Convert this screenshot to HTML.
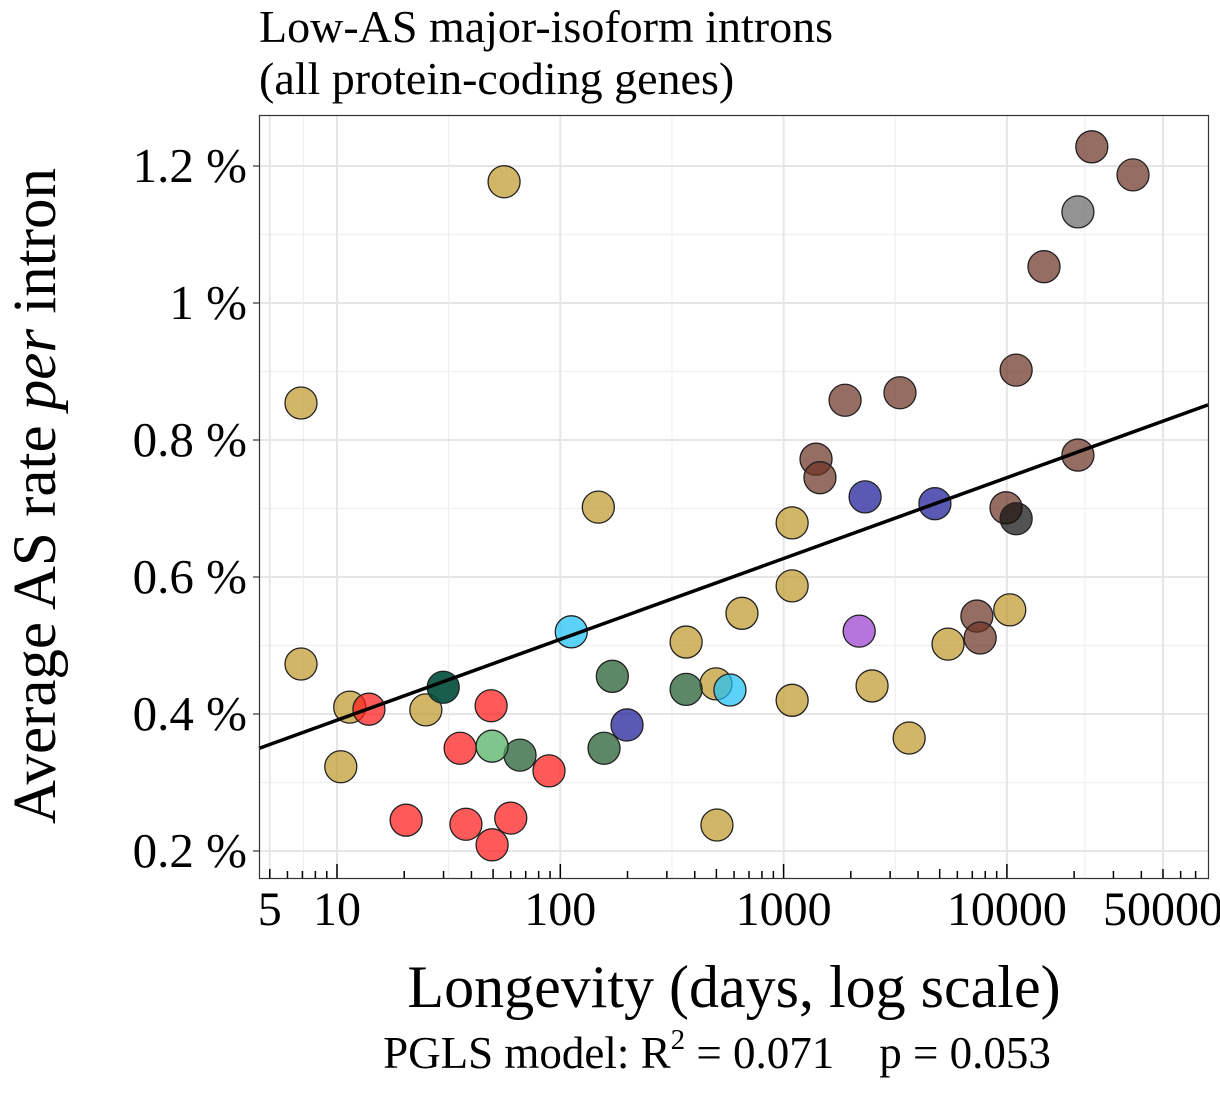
<!DOCTYPE html>
<html><head><meta charset="utf-8"><style>
html,body{margin:0;padding:0;background:#fff;}
svg{display:block;font-family:"Liberation Serif",serif;}
</style></head><body>
<svg id="chart" width="1220" height="1100" viewBox="0 0 1220 1100" xmlns="http://www.w3.org/2000/svg">
<text x="259" y="42" font-size="46">Low-AS major-isoform introns</text>
<text x="259" y="94" font-size="46">(all protein-coding genes)</text>
<g id="grid"></g>
<g id="ticks"></g>
<g id="marks"></g>
<rect x="259.5" y="115.5" width="949" height="763" fill="none" stroke="#333" stroke-width="1.2"/>
<text x="734" y="1007" font-size="60" text-anchor="middle">Longevity (days, log scale)</text>
<text transform="translate(55,496) rotate(-90)" font-size="61" text-anchor="middle">Average AS rate <tspan font-style="italic">per</tspan> intron</text>
<text x="717" y="1068" font-size="45" text-anchor="middle" xml:space="preserve">PGLS model: R<tspan dy="-19" font-size="29">2</tspan><tspan dy="19"> = 0.071    p = 0.053</tspan></text>
</svg>
<script>
const xTicks=[5,10,100,1000,10000,50000];
const xTickLabels=["5","10","100","1000","10000","50000"];
const yTicks=[0.2,0.4,0.6,0.8,1.0,1.2];
const yTickLabels=["0.2 %","0.4 %","0.6 %","0.8 %","1 %","1.2 %"];
const longevity=[6.9,6.9,11.4,10.4,25,56,148,366,498,651,503,1092,1092,1092,2490,3650,5450,10300,
13.9,20.4,35.6,37.8,49,49.5,60,89,
29.9,66,157,171,366,49.5,112,575,199,2317,4760,2180,
24000,36700,14660,11000,3320,1885,1397,1455,20800,9910,7340,7590,20800,11000];
const asRate=[0.854,0.473,0.410,0.323,0.406,1.177,0.702,0.505,0.444,0.547,0.238,0.679,0.587,0.420,0.441,0.365,0.502,0.552,
0.407,0.245,0.350,0.239,0.412,0.209,0.248,0.317,
0.439,0.340,0.350,0.455,0.436,0.353,0.520,0.435,0.384,0.717,0.707,0.521,
1.228,1.187,1.053,0.902,0.869,0.858,0.772,0.745,0.778,0.701,0.543,0.511,1.133,0.685];
const group=["g","g","g","g","g","g","g","g","g","g","g","g","g","g","g","g","g","g",
"r","r","r","r","r","r","r","r",
"t","d","d","d","d","l","c","c","n","n","n","p",
"b","b","b","b","b","b","b","b","b","b","b","b","y","k"];
const groupColors={g:"#c19a2e",r:"#ff1a1a",t:"#004d38",d:"#1e5a2e",l:"#4fae60",c:"#1ec0f5",n:"#1a1a99",p:"#9a3fd0",b:"#6e3526",y:"#6a6a6a",k:"#111"};
const fitIntercept=0.273, fitSlope=0.118;

const X0=259,X1=1208,Y0=115,Y1=878;
const xs=v=>337+(Math.log10(v)-1)*223.3;
const ys=v=>166+(1.2-v)*685;
const NS="http://www.w3.org/2000/svg";
function mk(tag,attrs,parent){const e=document.createElementNS(NS,tag);for(const k in attrs)e.setAttribute(k,attrs[k]);parent.appendChild(e);return e;}
const grid=document.getElementById("grid"),ticks=document.getElementById("ticks"),marks=document.getElementById("marks");
const xMinor=[Math.sqrt(5*10)];
for(let i=1;i<xTicks.length-1;i++)xMinor.push(Math.sqrt(xTicks[i]*xTicks[i+1]));
xMinor.push(xTicks[xTicks.length-1]*Math.sqrt(xTicks[xTicks.length-1]/xTicks[xTicks.length-2]));
xMinor.forEach(v=>{const x=xs(v);if(x<X1){const l=mk("line",{x1:x,x2:x,y1:Y0,y2:Y1,stroke:"#f0f0f0","stroke-width":1.2},grid);}});
for(let v=0.1;v<1.35;v+=0.2){const y=ys(v);if(y>Y0&&y<Y1){const l=mk("line",{x1:X0,x2:X1,y1:y,y2:y,stroke:"#f0f0f0","stroke-width":1.2},grid);}}
xTicks.forEach((v,i)=>{const x=xs(v);
const l=mk("line",{x1:x,x2:x,y1:Y0,y2:Y1,stroke:"#e6e6e6","stroke-width":2},grid);
const t=mk("text",{x:x,y:925,"font-size":48,"text-anchor":"middle"},ticks);t.textContent=xTickLabels[i];
});
yTicks.forEach((v,i)=>{const y=ys(v);
const l=mk("line",{x1:X0,x2:X1,y1:y,y2:y,stroke:"#e6e6e6","stroke-width":2},grid);
mk("line",{x1:X0-6,x2:X0,y1:y,y2:y,stroke:"#333","stroke-width":1.2},ticks);
const t=mk("text",{x:247,y:y+16,"font-size":49,"text-anchor":"end"},ticks);t.textContent=yTickLabels[i];
});
for(let d=1;d<=10000;d*=10){for(let m=1;m<10;m++){const v=d*m;const x=xs(v);if(x<X0||x>X1)continue;
const len=m===1?14:(m===5?9:7);
const l=mk("line",{x1:x,x2:x,y1:Y1,y2:Y1-len,stroke:"#000","stroke-width":1.5},ticks);}}
longevity.forEach((v,i)=>{const c=mk("circle",{cx:xs(v),cy:ys(asRate[i]),r:16,fill:groupColors[group[i]],"fill-opacity":group[i]==="t"?0.9:0.72,stroke:"#222","stroke-width":1.3},marks);
});
const lx0=Math.pow(10,1+(X0-337)/223.3),lx1=Math.pow(10,1+(X1-337)/223.3);
const fl=mk("line",{x1:X0,x2:X1,y1:ys(fitIntercept+fitSlope*Math.log10(lx0)),y2:ys(fitIntercept+fitSlope*Math.log10(lx1)),stroke:"#000","stroke-width":3.5},marks);

</script>
</body></html>
